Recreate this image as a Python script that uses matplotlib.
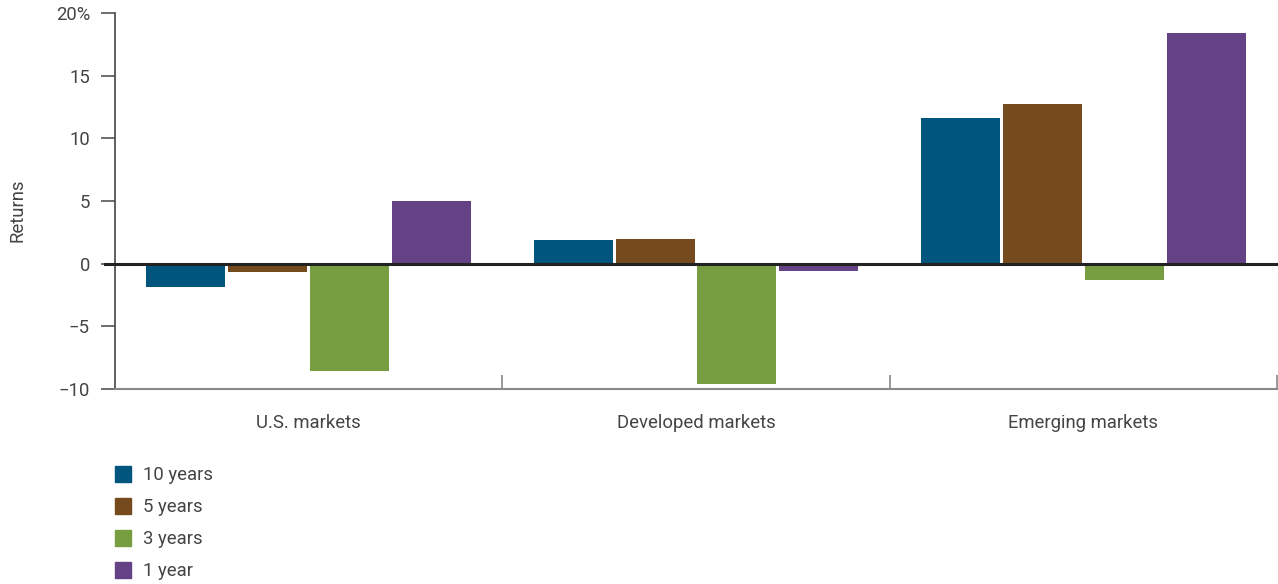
import matplotlib
matplotlib.use("Agg")
import matplotlib.pyplot as plt
import numpy as np
from matplotlib.patches import Rectangle

categories = ["U.S. markets", "Developed markets", "Emerging markets"]
series_names = ["10 years", "5 years", "3 years", "1 year"]
ten_years = [-1.9, 1.9, 11.6]
five_years = [-0.7, 2.0, 12.7]
three_years = [-8.6, -9.6, -1.3]
one_year = [5.0, -0.6, 18.4]
series = [ten_years, five_years, three_years, one_year]
colors = ["#00557F", "#754A1D", "#769D3F", "#654285"]
yticks = [-10, -5, 0, 5, 10, 15, 20]
ytick_labels = ["\u221210", "\u22125", "0", "5", "10", "15", "20%"]

plt.rcParams['font.family'] = ['Roboto', 'DejaVu Sans']
TXT = "#444444"
FS = 13.3
W, H = 1278, 584
fig = plt.figure(figsize=(W/100, H/100), dpi=100)
left, right, top, bottom = 115, 1277, 13, 389
ax = fig.add_axes([left/W, 1-bottom/H, (right-left)/W, (bottom-top)/H])

x = np.arange(len(categories))
step = 0.2115
width = 0.204
for i, (vals, c) in enumerate(zip(series, colors)):
    ax.bar(x + (i-1.5)*step, vals, width=width, color=c, zorder=2)

ax.set_xlim(-0.5, 2.5)
ax.set_ylim(-10, 20)
ax.set_yticks(yticks)
ax.set_yticklabels(ytick_labels, fontsize=FS, color=TXT)
ax.tick_params(axis='y', length=10, width=1.2, color="#555555", pad=8)

ax.set_xticks([0.5, 1.5, 2.5])
ax.set_xticklabels([])
ax.tick_params(axis='x', which='major', direction='in', length=10, width=1.2, color="#888888")
ax.set_xticks(x, minor=True)
ax.set_xticklabels(categories, minor=True, fontsize=FS, color=TXT)
ax.tick_params(axis='x', which='minor', length=0, pad=18)

for s in ['top', 'right']:
    ax.spines[s].set_visible(False)
ax.spines['left'].set_color("#444444")
ax.spines['left'].set_linewidth(1.2)
ax.spines['bottom'].set_color("#888888")
ax.spines['bottom'].set_linewidth(1.5)

ax.axhline(0, xmin=-10/(right-left), xmax=1.0, color="#222222", lw=2.2, zorder=3, clip_on=False)

fig.text(18/W, 1-210/H, "Returns", rotation=90, ha='center', va='center',
         fontsize=FS, color=TXT)

# legend
for i, (name, c) in enumerate(zip(series_names, colors)):
    yc = 474 + i*32
    fig.patches.append(Rectangle((115/W, 1-(yc+8)/H), 16/W, 16/H, color=c,
                                 transform=fig.transFigure, figure=fig))
    fig.text(143/W, 1-(yc+1)/H, name, ha='left', va='center', fontsize=FS,
             color=TXT)

fig.savefig("out.png", dpi=100)
